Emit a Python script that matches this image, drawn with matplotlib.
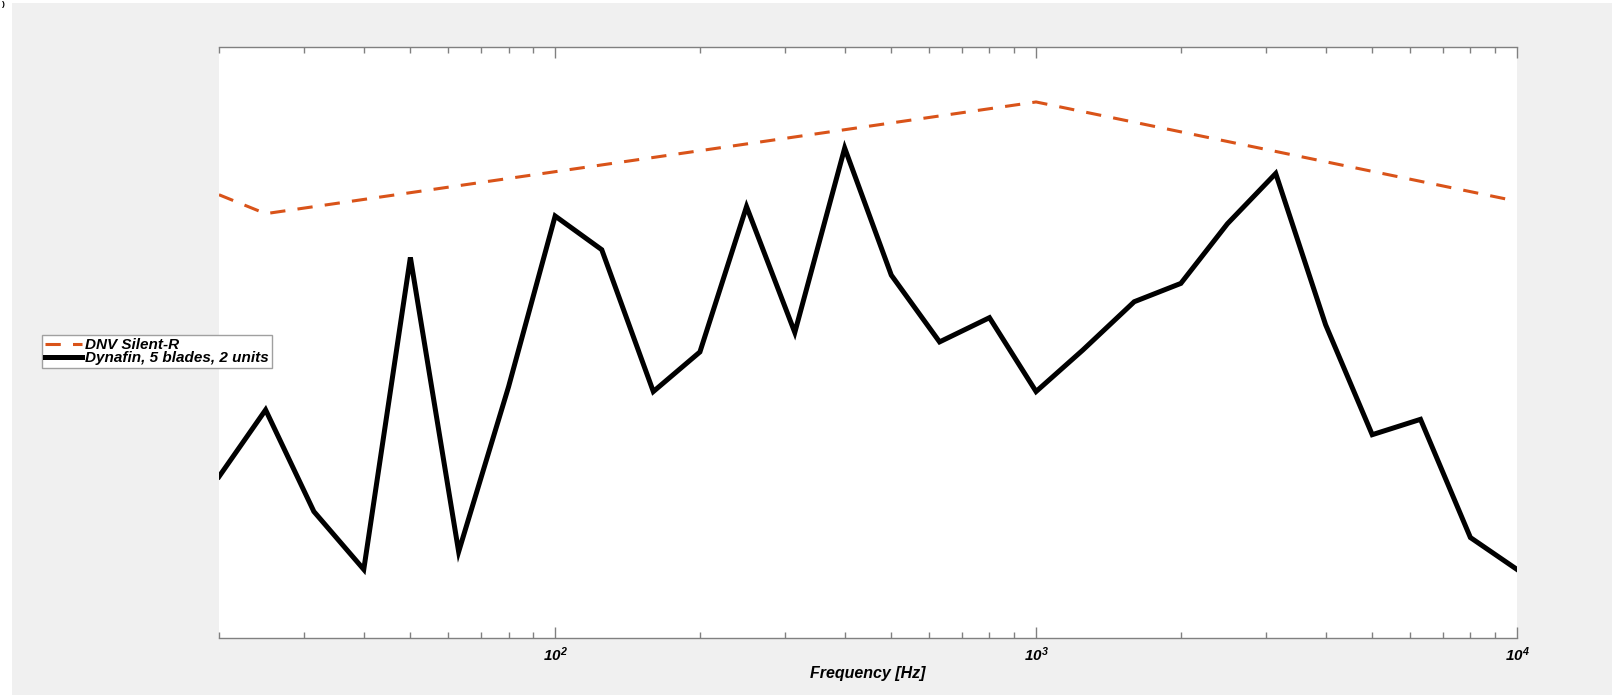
import matplotlib
matplotlib.use("Agg")
import matplotlib.pyplot as plt
from matplotlib.patches import Rectangle
from matplotlib.ticker import LogLocator, NullFormatter

# One-third octave band centre frequencies [Hz]
freq = [20, 25, 31.5, 40, 50, 63, 80, 100, 125, 160, 200, 250, 315, 400,
        500, 630, 800, 1000, 1250, 1600, 2000, 2500, 3150, 4000, 5000,
        6300, 8000, 10000]

# Radiated noise level, Dynafin 5 blades, 2 units [dB]
dynafin = [107.3, 118.6, 101.4, 91.6, 144.4, 94.6, 122.5, 151.4, 145.7,
           121.7, 128.4, 153.0, 131.7, 162.9, 141.4, 130.1, 134.2, 121.7,
           128.7, 136.9, 140.0, 150.1, 158.6, 133.0, 114.4, 117.0, 97.0, 91.6]

# DNV Silent-R limit curve corner points
dnv_freq = [20, 25, 1000, 10000]
dnv_level = [155.0, 151.8, 170.7, 153.9]

series_labels = ["DNV Silent-R", "Dynafin, 5 blades, 2 units"]
x_label = "Frequency [Hz]"

W, H = 1623, 695
fig = plt.figure(figsize=(W / 100, H / 100), dpi=100, facecolor="white")

# grey figure panel behind the axes
fig.patches.append(Rectangle((12 / W, 0), 1600 / W, 1 - 3 / H,
                             transform=fig.transFigure, facecolor="#f0f0f0",
                             edgecolor="none", zorder=-10))
fig.text(2 / W, 1 - 1 / H, ")", fontsize=6, fontweight="bold",
         family="Liberation Sans", ha="left", va="top")

ax = fig.add_axes([219 / W, 1 - 638 / H, (1517 - 219) / W, (638 - 47) / H])
ax.set_zorder(1)
ax.set_facecolor("white")

l1, = ax.plot(dnv_freq, dnv_level, color="#D95319", lw=2.2,
              linestyle=(0, (5, 4)), label=series_labels[0])
l2, = ax.plot(freq, dynafin, color="black", lw=3.6,
              solid_joinstyle="miter", label=series_labels[1])

ax.set_xscale("log")
ax.set_xlim(20, 10000)
ax.set_ylim(80, 180)

for s in ["left", "right"]:
    ax.spines[s].set_visible(False)
for s in ["top", "bottom"]:
    ax.spines[s].set_color("#808080")
    ax.spines[s].set_linewidth(1.0)

ax.xaxis.set_major_locator(LogLocator(base=10, numticks=10))
ax.xaxis.set_minor_locator(LogLocator(base=10, subs=range(2, 10), numticks=20))
ax.xaxis.set_minor_formatter(NullFormatter())
ax.tick_params(axis="x", which="both", direction="in", top=True, bottom=True,
               color="#808080", width=1.0)
ax.tick_params(axis="x", which="major", length=8, pad=5)
ax.tick_params(axis="x", which="minor", length=4.5)
ax.tick_params(axis="y", left=False, right=False, labelleft=False)

for t in ax.get_xticklabels():
    t.set_family("Liberation Sans")
    t.set_fontweight("bold")
    t.set_fontstyle("italic")
    t.set_fontsize(11)

ax.set_xlabel(x_label, family="Liberation Sans", fontweight="bold",
              fontstyle="italic", fontsize=11.5, labelpad=2)

leg = fig.legend(handles=[l1, l2], loc="upper left",
                 bbox_to_anchor=(42 / W, 1 - 335 / H),
                 prop={"family": "Liberation Sans", "weight": "bold",
                       "style": "italic", "size": 11.0},
                 frameon=True, fancybox=False, borderpad=0.2,
                 labelspacing=-0.05, handlelength=2.4, handletextpad=0.2,
                 borderaxespad=0)
leg.set_zorder(5)
leg.get_frame().set_edgecolor("#a0a0a0")
leg.get_frame().set_linewidth(1.0)
leg.get_frame().set_facecolor("white")
leg.get_frame().set_alpha(1)

fig.savefig("out.png", dpi=100, facecolor=fig.get_facecolor())
